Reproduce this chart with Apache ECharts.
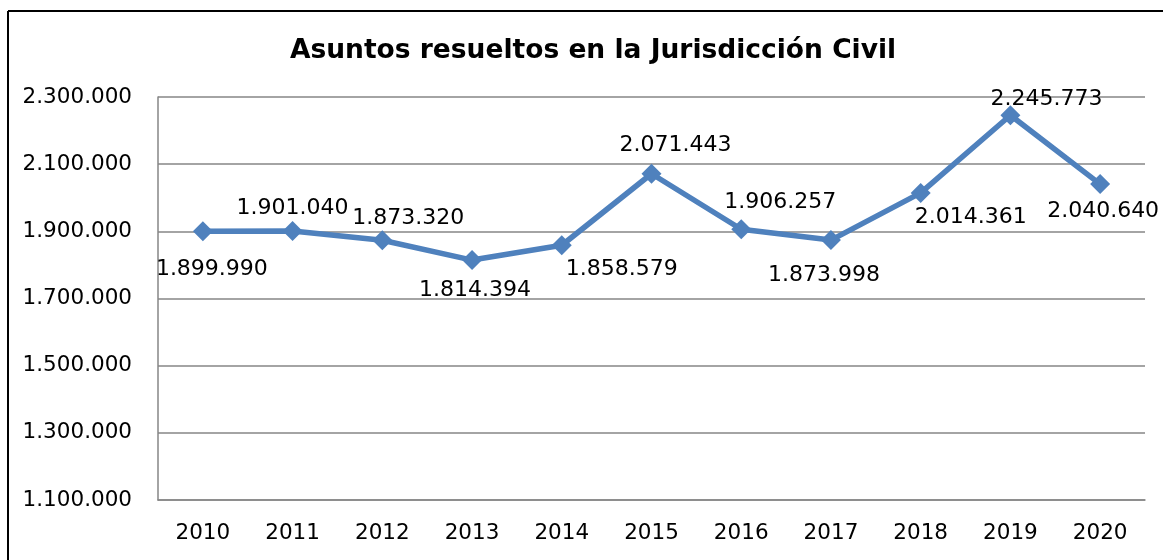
<!DOCTYPE html>
<html>
<head>
<meta charset="utf-8">
<script src="https://cdn.jsdelivr.net/npm/echarts@6/dist/echarts.min.js"></script>
<style>
html,body{margin:0;padding:0;background:#fff;}
#chart{width:1163px;height:560px;}
</style>
</head>
<body>
<div id="chart"></div>
<script>
const titleText = 'Asuntos resueltos en la Jurisdicción Civil';
const years = ['2010','2011','2012','2013','2014','2015','2016','2017','2018','2019','2020'];
const resueltos = [1899990, 1901040, 1873320, 1814394, 1858579, 2071443, 1906257, 1873998, 2014361, 2245773, 2040640];
// label offsets (dx, dy) from each point, as in the reference
const labelOffsets = [[9,38],[0,-23],[26,-22],[3,30],[60,24],[24,-28],[39,-27],[-7,35],[50,24],[36,-16],[3,27]];

function fmt(v){
  return String(Math.round(v)).replace(/\B(?=(\d{3})+(?!\d))/g, '.');
}

const chart = echarts.init(document.getElementById('chart'));
const FONT = 'DejaVu Sans';
chart.setOption({
  animation: false,
  backgroundColor: '#ffffff',
  title: {
    text: titleText,
    left: 588, top: 33, textAlign: 'center',
    textStyle: {fontFamily: FONT, fontWeight: 'bold', fontSize: 26.5, color: '#000'}
  },
  graphic: [
    {type: 'line', shape: {x1: 8, y1: 11, x2: 1163, y2: 11}, style: {stroke: '#000', lineWidth: 2}},
    {type: 'line', shape: {x1: 8, y1: 11, x2: 8, y2: 560}, style: {stroke: '#000', lineWidth: 2}}
  ],
  grid: {left: 158, right: 18, top: 97, bottom: 60, containLabel: false},
  xAxis: {
    type: 'category',
    data: years,
    boundaryGap: true,
    axisLine: {show: true, lineStyle: {color: '#868686', width: 1.5}},
    axisTick: {show: false},
    axisLabel: {fontFamily: FONT, fontSize: 21.5, color: '#000', margin: 22}
  },
  yAxis: {
    type: 'value',
    min: 1100000, max: 2300000, interval: 200000,
    axisLine: {show: true, lineStyle: {color: '#868686', width: 1.5}},
    axisTick: {show: false},
    splitLine: {show: true, lineStyle: {color: '#868686', width: 1.5}},
    axisLabel: {fontFamily: FONT, fontSize: 21.5, color: '#000', margin: 26, formatter: fmt}
  },
  series: [{
    type: 'line',
    data: resueltos.map((v, i) => ({
      value: v,
      label: {offset: labelOffsets[i]}
    })),
    symbol: 'diamond',
    symbolSize: 20,
    lineStyle: {color: '#4F81BD', width: 5.5},
    itemStyle: {color: '#4F81BD'},
    label: {
      show: true,
      position: 'inside',
      align: 'center',
      verticalAlign: 'middle',
      fontFamily: FONT, fontSize: 22, color: '#000',
      formatter: p => fmt(p.value)
    }
  }]
});
</script>
</body>
</html>
